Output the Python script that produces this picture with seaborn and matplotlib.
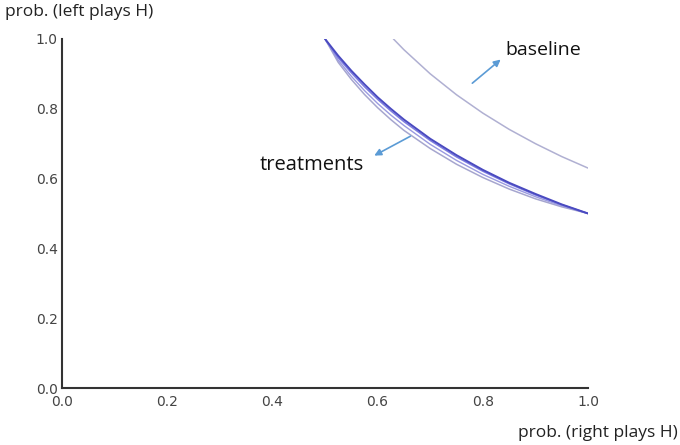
import matplotlib
matplotlib.use("Agg")
import matplotlib.pyplot as plt
import seaborn as sns
import pandas as pd

# ---- data ----
x_treat = [0.5, 0.525, 0.55, 0.575, 0.6, 0.625, 0.65, 0.7, 0.75, 0.8, 0.85, 0.9, 0.95, 1.0]
treat_1 = [1.0, 0.952, 0.909, 0.870, 0.833, 0.800, 0.769, 0.714, 0.667, 0.625, 0.588, 0.556, 0.526, 0.5]
treat_2 = [1.0, 0.946, 0.903, 0.863, 0.827, 0.794, 0.763, 0.709, 0.662, 0.621, 0.585, 0.553, 0.525, 0.5]
treat_3 = [1.0, 0.939, 0.893, 0.852, 0.815, 0.782, 0.752, 0.698, 0.652, 0.612, 0.578, 0.548, 0.522, 0.5]
treat_4 = [1.0, 0.933, 0.884, 0.841, 0.803, 0.769, 0.738, 0.686, 0.641, 0.603, 0.570, 0.542, 0.519, 0.5]
x_base = [0.63, 0.65, 0.7, 0.75, 0.8, 0.85, 0.9, 0.95, 1.0]
baseline = [1.0, 0.969, 0.9, 0.84, 0.7875, 0.741, 0.70, 0.663, 0.63]

ticks = [0.0, 0.2, 0.4, 0.6, 0.8, 1.0]
tick_labels = ["0.0", "0.2", "0.4", "0.6", "0.8", "1.0"]

frames = []
for name, ys in [("t4", treat_4), ("t3", treat_3), ("t2", treat_2), ("t1", treat_1)]:
    frames.append(pd.DataFrame({"x": x_treat, "y": ys, "series": name}))
frames.append(pd.DataFrame({"x": x_base, "y": baseline, "series": "base"}))
df = pd.concat(frames, ignore_index=True)

palette = {"t4": "#a6a6cf", "t3": "#9a9ae0", "t2": "#7c7ce0", "t1": "#4a4ac0", "base": "#b0b0d2"}
widths = {"t4": 1.1, "t3": 1.0, "t2": 1.1, "t1": 1.4, "base": 1.1}

sns.set_style("white")
plt.rcParams["font.family"] = ["DejaVu Sans"]

fig = plt.figure(figsize=(6.8, 4.45), dpi=100)
ax = fig.add_axes([0.0912, 0.128, 0.7735, 0.7846])

for name in ["base", "t4", "t3", "t2", "t1"]:
    sns.lineplot(data=df[df["series"] == name], x="x", y="y", color=palette[name],
                 linewidth=widths[name], sort=False, estimator=None, ax=ax, legend=False)

ax.set_xlim(0, 1)
ax.set_ylim(0, 1)
ax.set_xticks(ticks)
ax.set_xticklabels(tick_labels)
ax.set_yticks(ticks)
ax.set_yticklabels(tick_labels)
ax.set_xlabel("")
ax.set_ylabel("")
for s in ["top", "right"]:
    ax.spines[s].set_visible(False)
for s in ["left", "bottom"]:
    ax.spines[s].set_color("#333333")
    ax.spines[s].set_linewidth(1.5)
ax.tick_params(direction="in", length=4, width=0.8, color="#999999",
               labelsize=10, labelcolor="#444444", pad=3)
ax.tick_params(axis="x", pad=5)

lab_font = ["Open Sans", "DejaVu Sans"]
fig.text(0.008, 0.973, "prob. (left plays H)", fontsize=12.5, family=lab_font,
         color="#222222", ha="left", va="center")
fig.text(0.997, 0.027, "prob. (right plays H)", fontsize=12.5, family=lab_font,
         color="#222222", ha="right", va="center")

arrow_col = "#5b9bd5"
ax.annotate("", xy=(0.838, 0.946), xytext=(0.776, 0.868),
            arrowprops=dict(arrowstyle="-|>", color=arrow_col, lw=1.2, mutation_scale=10))
ax.text(0.843, 0.968, "baseline", fontsize=14, family=lab_font,
        color="#111111", ha="left", va="center")
ax.annotate("", xy=(0.589, 0.662), xytext=(0.667, 0.725),
            arrowprops=dict(arrowstyle="-|>", color=arrow_col, lw=1.2, mutation_scale=10))
ax.text(0.375, 0.639, "treatments", fontsize=14.5, family=lab_font,
        color="#111111", ha="left", va="center")

fig.savefig("out.png", dpi=100)
